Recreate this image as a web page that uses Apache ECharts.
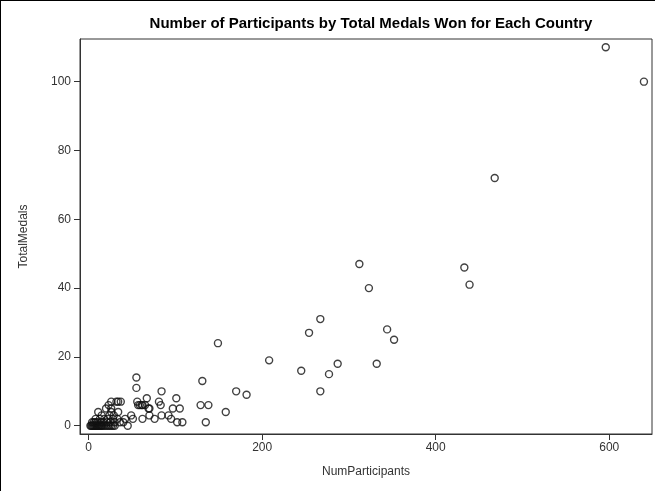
<!DOCTYPE html>
<html>
<head>
<meta charset="utf-8">
<script src="https://cdn.jsdelivr.net/npm/echarts@6/dist/echarts.min.js"></script>
<style>
html,body{margin:0;padding:0;background:#fff;}
#wrap{position:absolute;left:0;top:0;width:655px;height:491px;box-sizing:border-box;border-left:1px solid #000;border-top:1px solid #000;}
#chart{width:655px;height:491px;position:absolute;left:0;top:0;}
</style>
</head>
<body>
<div id="wrap"></div>
<div id="chart"></div>
<script>
// Number of participants per country
const numParticipants = [
  596, 640, 468, 312, 323, 433, 439, 267, 254, 344, 352, 287, 332, 245, 277, 267,
  149, 208, 131, 170, 182, 129, 138, 158, 135,
  55, 55, 67, 84, 101, 81, 62, 69, 83, 97, 105, 62, 70, 76, 84, 92, 95, 102, 108,
  23, 26, 34, 37, 57, 59, 65, 70, 56, 61, 49, 45, 51, 11, 20, 26, 32, 26, 34,
  2, 3, 4, 5, 6, 7, 8, 9, 10, 11, 12, 13, 14, 15, 16, 18, 20, 22, 24, 26, 28, 30,
  4, 6, 8, 10, 14, 17, 21, 25, 30, 36, 40,
  8, 13, 18, 22, 28, 33, 42, 15, 24, 29
];
// Total medals per country (same order)
const totalMedals = [
  110, 100, 72, 47, 40, 46, 41, 31, 27, 28, 25, 18, 18, 16, 15, 10,
  24, 19, 13, 10, 9, 6, 6, 4, 1,
  14, 11, 8, 10, 8, 7, 6, 5, 6, 5, 5, 2, 3, 2, 3, 3, 2, 1, 1,
  6, 7, 7, 7, 6, 6, 6, 5, 7, 6, 3, 0, 2, 4, 5, 5, 7, 4, 4,
  0, 0, 0, 0, 0, 0, 0, 0, 0, 0, 0, 0, 0, 0, 0, 0, 0, 0, 0, 0, 0, 0,
  1, 1, 1, 1, 1, 1, 1, 1, 1, 1, 1,
  2, 2, 2, 2, 2, 2, 2, 3, 3, 3
];
const xTicks = [0, 200, 400, 600];
const yTicks = [0, 20, 40, 60, 80, 100];

const points = numParticipants.map((x, i) => [x, totalMedals[i]]);

const chart = echarts.init(document.getElementById('chart'), null, {renderer: 'canvas'});
const FONT = 'Liberation Sans, Arial, sans-serif';
chart.setOption({
  animation: false,
  backgroundColor: 'transparent',
  title: {
    text: 'Number of Participants by Total Medals Won for Each Country',
    left: 366, top: 11, textAlign: 'center',
    textStyle: {fontFamily: FONT, fontSize: 15, fontWeight: 'bold', color: '#000'}
  },
  grid: {left: 80, right: 3, top: 39, bottom: 57, show: true, borderColor: '#333', borderWidth: 1, backgroundColor: 'transparent'},
  xAxis: {
    type: 'value', min: -10, max: 649.3,
    name: 'NumParticipants', nameLocation: 'middle', nameGap: 32,
    nameTextStyle: {fontFamily: FONT, fontSize: 12, color: '#333'},
    axisLine: {show: true, onZero: false, lineStyle: {color: '#333', width: 1}},
    axisTick: {show: true, length: 6, customValues: xTicks, lineStyle: {color: '#333'}},
    axisLabel: {customValues: xTicks, margin: 8, fontFamily: FONT, fontSize: 12, color: '#333'},
    splitLine: {show: false}
  },
  yAxis: {
    type: 'value', min: -2.4, max: 112.4,
    name: 'TotalMedals', nameLocation: 'middle', nameGap: 50,
    nameTextStyle: {fontFamily: FONT, fontSize: 12, color: '#333'},
    axisLine: {show: true, onZero: false, lineStyle: {color: '#333', width: 1}},
    axisTick: {show: true, length: 6, customValues: yTicks, lineStyle: {color: '#333'}},
    axisLabel: {customValues: yTicks, margin: 9, fontFamily: FONT, fontSize: 12, color: '#333'},
    splitLine: {show: false}
  },
  series: [{
    type: 'scatter',
    data: points,
    symbol: 'circle',
    symbolSize: 7,
    itemStyle: {color: 'rgba(0,0,0,0)', borderColor: '#111', borderWidth: 1.4}
  }]
});
</script>
</body>
</html>
